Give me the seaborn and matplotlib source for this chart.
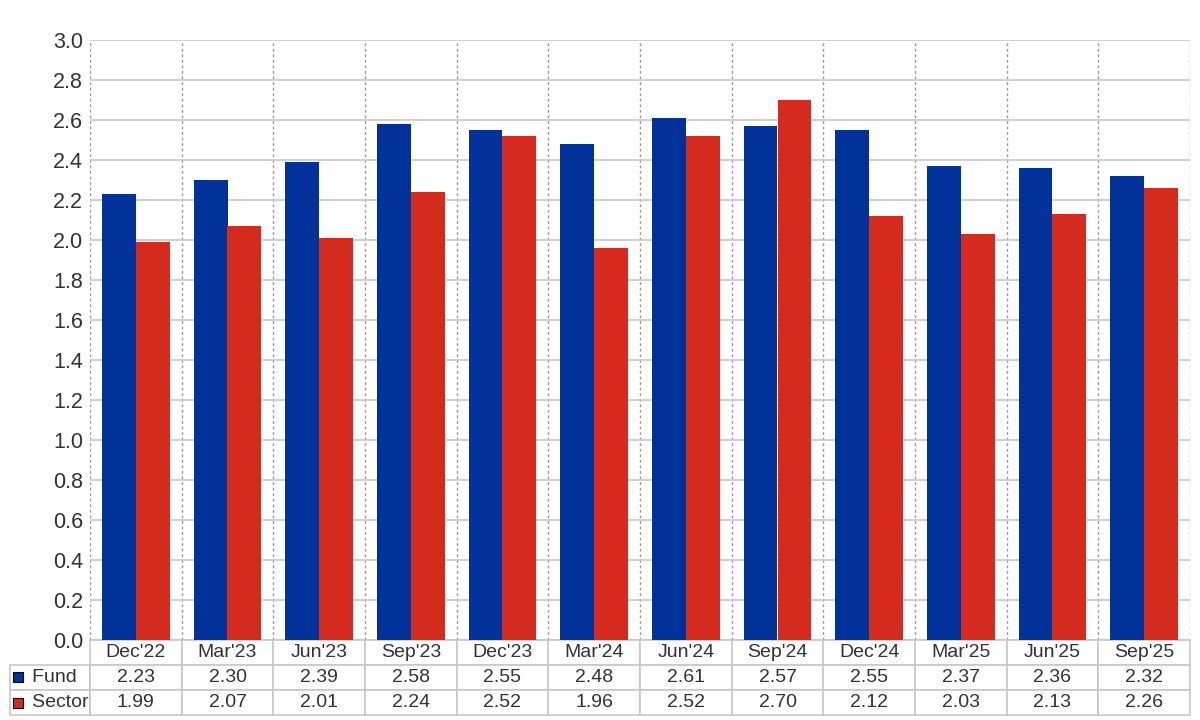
import matplotlib
matplotlib.use("Agg")
import matplotlib.pyplot as plt
import numpy as np
import pandas as pd
import seaborn as sns


quarters = ["Dec'22", "Mar'23", "Jun'23", "Sep'23", "Dec'23", "Mar'24",
            "Jun'24", "Sep'24", "Dec'24", "Mar'25", "Jun'25", "Sep'25"]
fund = [2.23, 2.30, 2.39, 2.58, 2.55, 2.48, 2.61, 2.57, 2.55, 2.37, 2.36, 2.32]
sector = [1.99, 2.07, 2.01, 2.24, 2.52, 1.96, 2.52, 2.70, 2.12, 2.03, 2.13, 2.26]
series_names = ["Fund", "Sector"]
colors = ["#003299", "#D52B1E"]

sns.set_theme(style="white")
plt.rcParams['font.family'] = ['Liberation Sans', 'DejaVu Sans']
text_color = "#333333"


def build_frame():
    """
    Long-form DataFrame for seaborn
    """
    df = pd.DataFrame({"Quarter": quarters, "Fund": fund, "Sector": sector})
    return df.melt(id_vars="Quarter", var_name="Series", value_name="Value")


def draw_table(ax):
    """
    Data table under the bars, with legend squares in the row labels
    """
    cell_text = [["   " + series_names[0]] + ["%.2f" % v for v in fund],
                 ["   " + series_names[1]] + ["%.2f" % v for v in sector]]
    label_w = 80 / 1100
    widths = [label_w] + [1 / len(quarters)] * len(quarters)
    tbl = ax.table(cellText=cell_text,
                   colLabels=[""] + quarters,
                   colWidths=widths,
                   cellLoc="center",
                   bbox=[-label_w, -75 / 600, 1 + label_w, 75 / 600])
    tbl.auto_set_font_size(False)
    tbl.set_fontsize(14)
    for (r, c), cell in tbl.get_celld().items():
        cell.set_edgecolor("#c8c8c8")
        cell.set_linewidth(1.2)
        cell.get_text().set_color(text_color)
        cell.PAD = 0.02
        if c == 0:
            cell.PAD = 0.08
            cell.get_text().set_horizontalalignment("left")
            cell._loc = "left"
    tbl[0, 0].visible_edges = ""

    # legend squares
    for y, col in zip([-37 / 600, -63 / 600], colors):
        ax.plot([-72 / 1100], [y], marker="s", markersize=7, color=col,
                markeredgecolor="black", markeredgewidth=0.8,
                transform=ax.transAxes, clip_on=False, zorder=5)


def plot():
    df = build_frame()
    fig = plt.figure(figsize=(12, 7.2), dpi=100)
    ax = fig.add_axes([90 / 1200, 80 / 720, 1100 / 1200, 600 / 720])

    sns.barplot(data=df, x="Quarter", y="Value", hue="Series",
                palette=colors, saturation=1, width=0.74, ax=ax,
                legend=False, linewidth=0)

    ax.set_ylim(0, 3.0)
    ax.set_xlim(-0.5, len(quarters) - 0.5)
    ax.set_yticks(np.arange(0, 3.01, 0.2))
    ax.set_yticklabels(["%.1f" % t for t in np.arange(0, 3.01, 0.2)],
                       fontsize=15.5, color=text_color)
    ax.set_xticks([])
    ax.set_xticks(np.arange(-0.5, len(quarters), 1), minor=True)
    ax.tick_params(axis="both", which="both", length=0, pad=5)
    ax.set_xlabel("")
    ax.set_ylabel("")

    ax.grid(axis="y", color="#c8c8c8", linewidth=1.2, linestyle="-")
    ax.grid(axis="x", which="minor", color="#999999", linewidth=1,
            linestyle=(0, (2, 2)))
    ax.set_axisbelow(True)
    for s in ax.spines.values():
        s.set_visible(False)

    draw_table(ax)
    fig.savefig("out.png", dpi=100)


plot()
